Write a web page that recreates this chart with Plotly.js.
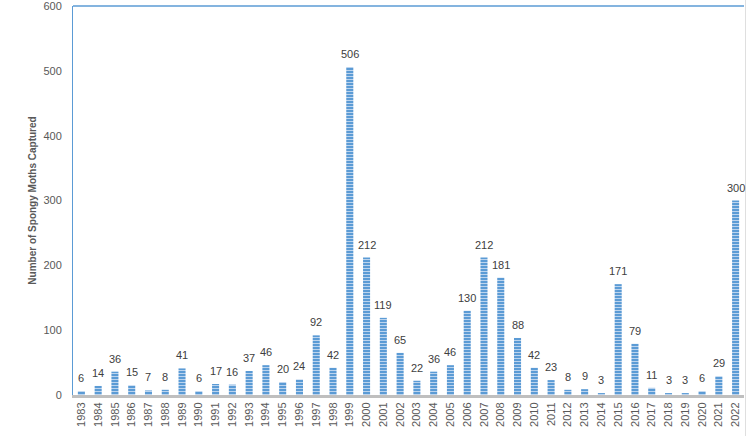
<!DOCTYPE html>
<html>
<head>
<meta charset="utf-8">
<script src="https://cdn.plot.ly/plotly-3.0.1.min.js"></script>
<style>html,body{margin:0;padding:0;background:#fff;}#chart{width:746px;height:436px;}</style>
</head>
<body>
<div id="chart"></div>
<script>
const years = ['1983','1984','1985','1986','1987','1988','1989','1990','1991','1992','1993','1994','1995','1996','1997','1998','1999','2000','2001','2002','2003','2004','2005','2006','2007','2008','2009','2010','2011','2012','2013','2014','2015','2016','2017','2018','2019','2020','2021','2022'];
const moths = [6,14,36,15,7,8,41,6,17,16,37,46,20,24,92,42,506,212,119,65,22,36,46,130,212,181,88,42,23,8,9,3,171,79,11,3,3,6,29,300];
const yTitle = 'Number of Spongy Moths Captured';

const trace = {
  type: 'bar',
  x: years,
  y: moths,
  marker: {
    color: '#5b9bd5',
    line: {width: 0},
    pattern: {shape: '-', bgcolor: '#5b9bd5', fgcolor: '#bcd4ee', size: 3, solidity: 0.35, fillmode: 'replace'}
  },
  hoverinfo: 'x+y'
};

// data labels placed on the category axis by category index
const labels = years.map((yr, i) => ({
  x: i, y: moths[i], xref: 'x', yref: 'y',
  text: String(moths[i]), showarrow: false,
  yanchor: 'bottom', xanchor: 'center', yshift: 5,
  font: {family: 'Liberation Sans, Arial, sans-serif', size: 11, color: '#404040'}
}));

const layout = {
  width: 746, height: 436,
  margin: {l: 73, r: 2, t: 6, b: 41},
  paper_bgcolor: '#fff', plot_bgcolor: '#fff',
  bargap: 0.58,
  showlegend: false,
  font: {family: 'Liberation Sans, Arial, sans-serif', size: 11, color: '#595959'},
  xaxis: {
    type: 'category',
    categoryorder: 'array', categoryarray: years,
    range: [-0.5, years.length - 0.5],
    autorange: false,
    tickangle: -90,
    showgrid: false,
    showline: true, linecolor: '#bfbfbf', linewidth: 3,
    ticks: '',
    tickfont: {size: 11, color: '#595959'},
    fixedrange: true
  },
  yaxis: {
    range: [0, 600], autorange: false, dtick: 100,
    showgrid: false, zeroline: false,
    showline: true, linecolor: '#5b9bd5', linewidth: 1,
    ticks: '', ticklabelstandoff: 8,
    ticklabeloverflow: 'allow',
    tickfont: {size: 11, color: '#595959'},
    title: {text: yTitle, font: {size: 10, color: '#595959', weight: 'bold'}, standoff: 4},
    fixedrange: true
  },
  annotations: labels,
  shapes: [
    {type: 'line', xref: 'paper', yref: 'paper', x0: 0, x1: 1, y0: 1, y1: 1, line: {color: '#5b9bd5', width: 1.5}},
    {type: 'line', xref: 'paper', yref: 'paper', x0: 1.0025, x1: 1.0025, y0: -0.2, y1: 1.02, line: {color: '#d9d9d9', width: 1}}
  ]
};

Plotly.newPlot('chart', [trace], layout, {displayModeBar: false, staticPlot: true});
</script>
</body>
</html>
